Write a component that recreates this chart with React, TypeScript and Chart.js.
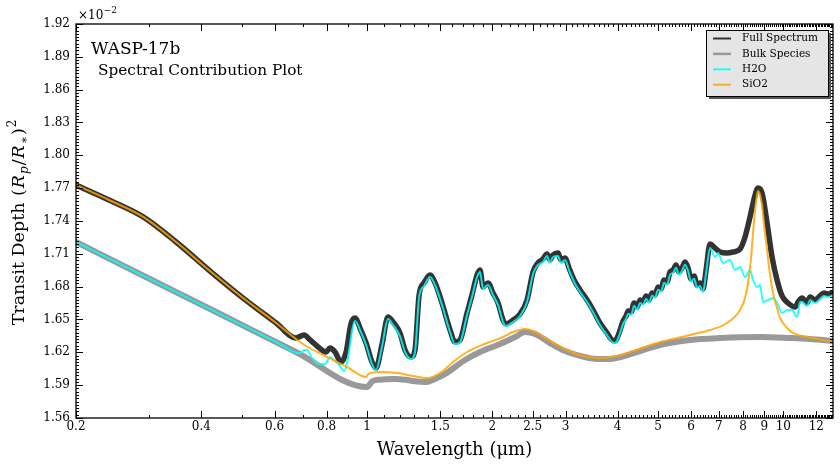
import { useEffect, useRef } from "react";
import { Chart, registerables } from "chart.js";

Chart.register(...registerables);

// Wavelengths in microns, transit depths in units of 1e-2
const fullWl = [0.2, 0.24, 0.29, 0.348, 0.417, 0.504, 0.605, 0.675, 0.706, 0.73, 0.763, 0.797, 0.815, 0.838, 0.866, 0.891, 0.915, 0.936, 0.962, 0.995, 1.028, 1.051, 1.086, 1.123, 1.155, 1.2, 1.234, 1.276, 1.304, 1.334, 1.371, 1.417, 1.457, 1.514, 1.583, 1.627, 1.673, 1.739, 1.787, 1.838, 1.868, 1.9, 1.953, 2.007, 2.064, 2.122, 2.158, 2.243, 2.331, 2.423, 2.505, 2.561, 2.647, 2.706, 2.751, 2.797, 2.876, 2.924, 2.99, 3.056, 3.143, 3.249, 3.377, 3.49, 3.627, 3.77, 3.876, 3.943, 3.987, 4.054, 4.121, 4.191, 4.238, 4.309, 4.381, 4.454, 4.528, 4.603, 4.679, 4.758, 4.838, 4.918, 5.001, 5.085, 5.17, 5.256, 5.343, 5.434, 5.525, 5.617, 5.711, 5.807, 5.902, 6.003, 6.104, 6.206, 6.308, 6.413, 6.523, 6.667, 6.854, 7.046, 7.324, 7.57, 7.871, 8.091, 8.318, 8.553, 8.694, 8.888, 9.138, 9.394, 9.658, 9.928, 10.26, 10.67, 10.85, 11.09, 11.4, 11.59, 11.92, 12.25, 12.52, 12.81, 13.16];
const fullDepth = [1.7729, 1.7592, 1.7437, 1.7208, 1.6952, 1.6696, 1.6468, 1.6331, 1.6358, 1.6313, 1.6249, 1.6203, 1.624, 1.6203, 1.6112, 1.6203, 1.6459, 1.6514, 1.6422, 1.6285, 1.6112, 1.6057, 1.6267, 1.6523, 1.6477, 1.6377, 1.6221, 1.6157, 1.6221, 1.6724, 1.6834, 1.6907, 1.6834, 1.6651, 1.6404, 1.6294, 1.6313, 1.6559, 1.6724, 1.6907, 1.6952, 1.6797, 1.6834, 1.6742, 1.6651, 1.6495, 1.6459, 1.6495, 1.655, 1.6678, 1.6934, 1.7007, 1.7053, 1.7099, 1.7044, 1.7089, 1.7108, 1.7044, 1.7062, 1.6971, 1.6861, 1.677, 1.6678, 1.6587, 1.6468, 1.6377, 1.6313, 1.6304, 1.6331, 1.6404, 1.6486, 1.6532, 1.6578, 1.6569, 1.6651, 1.6614, 1.6678, 1.666, 1.6715, 1.6678, 1.6742, 1.6724, 1.6797, 1.6779, 1.6861, 1.6843, 1.6934, 1.6952, 1.6998, 1.6934, 1.6971, 1.7025, 1.6971, 1.687, 1.6898, 1.6815, 1.6834, 1.6779, 1.6952, 1.719, 1.7153, 1.7117, 1.7108, 1.7117, 1.7144, 1.7254, 1.7437, 1.7638, 1.7702, 1.7656, 1.7382, 1.7071, 1.6861, 1.6715, 1.6651, 1.6614, 1.666, 1.6697, 1.6651, 1.6706, 1.6678, 1.6715, 1.6742, 1.6733, 1.6742];

const bulkWl = [0.2, 0.301, 0.444, 0.675, 1.0, 1.03, 1.0745, 1.1674, 1.234, 1.304, 1.3785, 1.457, 1.5397, 1.627, 1.7199, 1.868, 2.087, 2.268, 2.396, 2.533, 2.751, 2.99, 3.249, 3.568, 3.834, 4.167, 4.528, 5.056, 5.968, 7.046, 8.791, 10.38, 11.59, 13.16];
const bulkDepth = [1.7208, 1.687, 1.655, 1.6203, 1.5883, 1.5935, 1.595, 1.5956, 1.595, 1.5935, 1.5929, 1.5956, 1.6002, 1.6066, 1.613, 1.6203, 1.6276, 1.634, 1.6386, 1.6368, 1.6285, 1.6212, 1.6167, 1.6139, 1.6139, 1.6167, 1.6212, 1.6267, 1.6313, 1.6331, 1.634, 1.6331, 1.6322, 1.6304];

const h2oWl = [0.2, 0.301, 0.444, 0.618, 0.683, 0.694, 0.706, 0.718, 0.738, 0.771, 0.793, 0.815, 0.838, 0.861, 0.881, 0.895, 0.91, 0.921, 0.936, 0.962, 0.995, 1.028, 1.051, 1.086, 1.123, 1.155, 1.2, 1.234, 1.276, 1.304, 1.334, 1.371, 1.417, 1.457, 1.514, 1.583, 1.627, 1.673, 1.739, 1.787, 1.838, 1.868, 1.9, 1.953, 2.007, 2.064, 2.122, 2.158, 2.243, 2.331, 2.423, 2.505, 2.561, 2.647, 2.706, 2.751, 2.797, 2.876, 2.924, 2.99, 3.056, 3.143, 3.249, 3.377, 3.49, 3.627, 3.77, 3.876, 3.943, 3.987, 4.054, 4.121, 4.191, 4.238, 4.309, 4.381, 4.454, 4.528, 4.603, 4.679, 4.758, 4.838, 4.918, 5.001, 5.085, 5.17, 5.256, 5.343, 5.434, 5.525, 5.617, 5.711, 5.807, 5.902, 6.003, 6.104, 6.206, 6.308, 6.413, 6.523, 6.667, 6.854, 6.968, 7.163, 7.446, 7.655, 7.871, 8.091, 8.318, 8.456, 8.646, 8.791, 8.938, 9.189, 9.446, 9.711, 9.928, 10.21, 10.49, 10.79, 10.97, 11.09, 11.4, 11.59, 11.92, 12.25, 12.52, 12.81, 13.16];
const h2oDepth = [1.7208, 1.687, 1.655, 1.6276, 1.6194, 1.6194, 1.6221, 1.6221, 1.6148, 1.6093, 1.6093, 1.6157, 1.6121, 1.6075, 1.6029, 1.6103, 1.6267, 1.6404, 1.6486, 1.6404, 1.6267, 1.6093, 1.6039, 1.6249, 1.6505, 1.645, 1.6349, 1.6203, 1.6139, 1.6203, 1.6706, 1.6806, 1.6888, 1.6815, 1.6633, 1.6386, 1.6276, 1.6294, 1.6541, 1.6706, 1.6888, 1.6934, 1.6779, 1.6815, 1.6724, 1.6633, 1.6477, 1.6441, 1.6477, 1.6532, 1.666, 1.6916, 1.6989, 1.7025, 1.708, 1.7016, 1.7071, 1.708, 1.7016, 1.7044, 1.6952, 1.6843, 1.6751, 1.666, 1.6569, 1.645, 1.6358, 1.6294, 1.6285, 1.6306, 1.6379, 1.6459, 1.6507, 1.6553, 1.6541, 1.6626, 1.6589, 1.6651, 1.6635, 1.669, 1.6653, 1.6717, 1.6699, 1.6772, 1.6754, 1.6836, 1.6818, 1.6909, 1.6927, 1.6973, 1.6909, 1.6946, 1.7, 1.6946, 1.6845, 1.6873, 1.679, 1.6806, 1.6751, 1.6925, 1.7153, 1.7071, 1.7108, 1.7016, 1.7044, 1.6952, 1.698, 1.6888, 1.6952, 1.6861, 1.6797, 1.6815, 1.666, 1.6678, 1.6696, 1.6633, 1.6559, 1.6587, 1.6587, 1.6523, 1.666, 1.666, 1.6624, 1.6678, 1.6651, 1.6687, 1.6715, 1.6706, 1.6724];

const sio2Wl = [0.2, 0.24, 0.29, 0.348, 0.417, 0.504, 0.605, 0.675, 0.714, 0.784, 0.895, 0.995, 1.008, 1.0745, 1.1804, 1.2898, 1.3938, 1.4973, 1.6093, 1.739, 1.9423, 2.122, 2.243, 2.396, 2.505, 2.751, 3.023, 3.303, 3.627, 3.987, 4.355, 4.972, 5.968, 6.667, 7.324, 7.871, 8.091, 8.226, 8.364, 8.456, 8.553, 8.646, 8.694, 8.791, 8.888, 8.988, 9.138, 9.291, 9.446, 9.658, 9.819, 10.21, 10.55, 11.79, 13.16];
const sio2Depth = [1.7729, 1.7592, 1.7437, 1.7208, 1.6952, 1.6696, 1.6468, 1.6322, 1.6258, 1.6176, 1.6066, 1.5975, 1.6002, 1.602, 1.6011, 1.5984, 1.5965, 1.6011, 1.6112, 1.6203, 1.6285, 1.634, 1.6386, 1.6413, 1.6395, 1.6304, 1.6221, 1.6167, 1.6148, 1.6167, 1.6212, 1.6285, 1.6358, 1.6404, 1.6468, 1.6587, 1.6696, 1.6834, 1.7062, 1.729, 1.7501, 1.7638, 1.7674, 1.7638, 1.7546, 1.7364, 1.7135, 1.6907, 1.6742, 1.6605, 1.6514, 1.6422, 1.6377, 1.6331, 1.6294];

const seriesNames = ["Full Spectrum", "Bulk Species", "H2O", "SiO2"];
const seriesColors = ["#333333", "#999999", "rgba(0,255,255,0.85)", "rgba(255,165,0,0.85)"];

const yTickValues = [1.56, 1.59, 1.62, 1.65, 1.68, 1.71, 1.74, 1.77, 1.8, 1.83, 1.86, 1.89, 1.92];
const xTickValues = [0.2, 0.4, 0.6, 0.8, 1, 1.5, 2, 2.5, 3, 4, 5, 6, 7, 8, 9, 10, 12];

const X_MIN = 0.2;
const X_MAX = 13.16;
const Y_MIN = 1.56;
const Y_MAX = 1.92;

const SERIF = "'DejaVu Serif', serif";

const pts = (xs: number[], ys: number[]) => xs.map((x, i) => ({ x, y: ys[i] }));

const mplAxes = {
  id: "mplAxes",
  afterDatasetsDraw(chart: any) {
    const { ctx, chartArea: a } = chart;
    const xs = chart.scales.x;
    const ys = chart.scales.y;
    ctx.save();

    // inward ticks on all four sides
    ctx.strokeStyle = "#000";
    ctx.lineWidth = 1;
    const tickY = (v: number, len: number) => {
      const py = Math.round(ys.getPixelForValue(v)) + 0.5;
      ctx.beginPath();
      ctx.moveTo(a.left, py);
      ctx.lineTo(a.left + len, py);
      ctx.moveTo(a.right, py);
      ctx.lineTo(a.right - len, py);
      ctx.stroke();
    };
    const tickX = (v: number, len: number) => {
      const px = Math.round(xs.getPixelForValue(v)) + 0.5;
      ctx.beginPath();
      ctx.moveTo(px, a.bottom);
      ctx.lineTo(px, a.bottom - len);
      ctx.moveTo(px, a.top);
      ctx.lineTo(px, a.top + len);
      ctx.stroke();
    };
    for (let i = 0; i <= 120; i++) {
      const v = Y_MIN + i * 0.003;
      tickY(v, i % 10 === 0 ? 7 : 3);
    }
    for (let k = 2; k <= 131; k++) {
      const v = k / 10;
      if (v > X_MAX) break;
      const major = xTickValues.some((t) => Math.abs(t - v) < 1e-6);
      tickX(v, major ? 7 : 3);
    }

    // frame
    ctx.lineWidth = 1.3;
    ctx.strokeRect(a.left, a.top, a.right - a.left, a.bottom - a.top);

    // tick labels
    ctx.fillStyle = "#000";
    ctx.font = `12px ${SERIF}`;
    ctx.textAlign = "right";
    ctx.textBaseline = "middle";
    yTickValues.forEach((v) => {
      ctx.fillText(v.toFixed(2), a.left - 6, ys.getPixelForValue(v));
    });
    ctx.textAlign = "center";
    ctx.textBaseline = "top";
    xTickValues.forEach((v) => {
      ctx.fillText(String(v), xs.getPixelForValue(v), a.bottom + 3);
    });

    // offset text
    ctx.textAlign = "left";
    ctx.textBaseline = "alphabetic";
    ctx.font = `12px ${SERIF}`;
    ctx.fillText("\u00d710", a.left + 2, 19);
    const w10 = ctx.measureText("\u00d710").width;
    ctx.font = `9px ${SERIF}`;
    ctx.fillText("\u22122", a.left + 2 + w10 + 0.5, 13);

    // axis titles
    ctx.font = `18px ${SERIF}`;
    ctx.textAlign = "center";
    ctx.fillText("Wavelength (\u03bcm)", (a.left + a.right) / 2, 455);

    // y title with math parts
    ctx.save();
    ctx.translate(24, (a.top + a.bottom) / 2 + 1);
    ctx.rotate(-Math.PI / 2);
    const parts: [string, string, number][] = [
      ["Transit Depth ", `17.5px ${SERIF}`, 0],
      ["(", `17.5px ${SERIF}`, 0],
      ["R", `italic 17.5px ${SERIF}`, 0],
      ["p", `italic 12px ${SERIF}`, 4],
      ["/", `17.5px ${SERIF}`, 0],
      ["R", `italic 17.5px ${SERIF}`, 0],
      ["\u2217", `12px ${SERIF}`, 4],
      [")", `17.5px ${SERIF}`, 0],
      ["2", `12px ${SERIF}`, -8],
    ];
    let total = 0;
    parts.forEach(([t, f]) => {
      ctx.font = f;
      total += ctx.measureText(t).width + 1;
    });
    let cx = -total / 2;
    ctx.textAlign = "left";
    parts.forEach(([t, f, dy]) => {
      ctx.font = f;
      ctx.fillText(t, cx, dy);
      cx += ctx.measureText(t).width + 1;
    });
    ctx.restore();

    // in-plot titles
    ctx.font = `17px ${SERIF}`;
    ctx.textAlign = "left";
    ctx.fillText("WASP-17b", a.left + 15, 54);
    ctx.font = `15.3px ${SERIF}`;
    ctx.fillText("Spectral Contribution Plot", a.left + 22, 75);

    // legend box with drop shadow
    const lx = 706, ly = 30, lw = 122, lh = 66;
    ctx.fillStyle = "#555";
    ctx.fillRect(lx + 3, ly + 3, lw, lh);
    ctx.fillStyle = "#e5e5e5";
    ctx.fillRect(lx, ly, lw, lh);
    ctx.strokeStyle = "#000";
    ctx.lineWidth = 1;
    ctx.strokeRect(lx + 0.5, ly + 0.5, lw, lh);
    ctx.font = `10.5px ${SERIF}`;
    ctx.textBaseline = "middle";
    seriesNames.forEach((name, i) => {
      const ry = 38.5 + i * 15.4;
      ctx.strokeStyle = seriesColors[i];
      ctx.lineWidth = i === 1 ? 2.5 : 2;
      ctx.beginPath();
      ctx.moveTo(713, ry);
      ctx.lineTo(731, ry);
      ctx.stroke();
      ctx.fillStyle = "#000";
      ctx.fillText(name, 742, ry);
    });

    ctx.restore();
  },
};

export default function App() {
  const canvasRef = useRef<HTMLCanvasElement | null>(null);

  useEffect(() => {
    document.body.style.margin = "0";
    const canvas = canvasRef.current;
    if (!canvas) return;
    const chart = new Chart(canvas, {
      type: "line",
      data: {
        datasets: [
          {
            label: seriesNames[0],
            data: pts(fullWl, fullDepth),
            borderColor: seriesColors[0],
            borderWidth: 5.5,
            order: 4,
          },
          {
            label: seriesNames[1],
            data: pts(bulkWl, bulkDepth),
            borderColor: seriesColors[1],
            borderWidth: 6,
            order: 3,
          },
          {
            label: seriesNames[2],
            data: pts(h2oWl, h2oDepth),
            borderColor: seriesColors[2],
            borderWidth: 2,
            order: 2,
          },
          {
            label: seriesNames[3],
            data: pts(sio2Wl, sio2Depth),
            borderColor: seriesColors[3],
            borderWidth: 2,
            order: 1,
          },
        ],
      },
      options: {
        animation: false,
        responsive: false,
        devicePixelRatio: 1,
        layout: { padding: { left: 76, top: 24, right: 7, bottom: 49 } },
        elements: {
          point: { radius: 0 },
          line: { cubicInterpolationMode: "monotone", borderCapStyle: "round", borderJoinStyle: "round" },
        },
        scales: {
          x: { type: "logarithmic", min: X_MIN, max: X_MAX, display: false },
          y: { type: "linear", min: Y_MIN, max: Y_MAX, display: false },
        },
        plugins: { legend: { display: false }, tooltip: { enabled: false } },
      },
      plugins: [mplAxes],
    });
    return () => chart.destroy();
  }, []);

  return (
    <div style={{ width: 840, height: 467, background: "#fff" }}>
      <canvas ref={canvasRef} width={840} height={467} style={{ display: "block" }} />
    </div>
  );
}
